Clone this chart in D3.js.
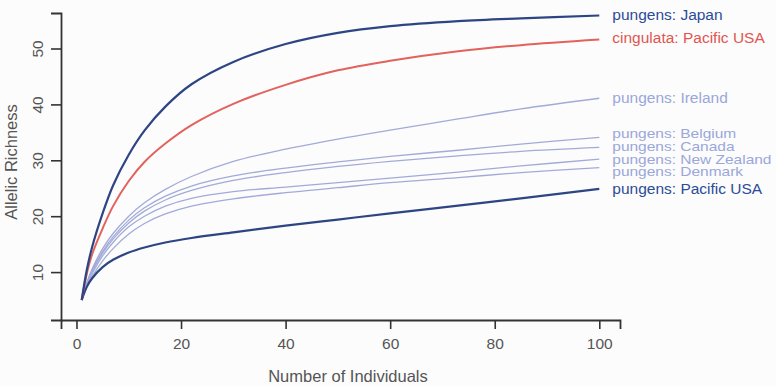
<!DOCTYPE html>
<html>
<head>
<meta charset="utf-8">
<script src="https://cdn.jsdelivr.net/npm/d3@7"></script>
<style>
  body { margin: 0; background: #fcfcfc; }
  text { font-family: "Liberation Sans", Arial, sans-serif; }
</style>
</head>
<body>
<div id="chart"></div>
<script>
// sample sizes (number of individuals)
var individuals = [1, 2, 3, 5, 7, 10, 13, 17, 22, 30, 40, 50, 60, 73, 85, 100];

// allelic richness per population
var japan      = [5, 10.5, 14.5, 20.5, 25.5, 31.0, 35.3, 39.6, 43.6, 47.6, 50.8, 52.8, 54.0, 54.9, 55.4, 55.9];
var cingulata  = [5, 9.8, 13.2, 17.8, 21.8, 26.3, 29.7, 33.0, 36.3, 40.1, 43.5, 46.1, 47.8, 49.5, 50.6, 51.6];
var ireland    = [5, 8.2, 10.6, 14.2, 16.9, 20.0, 22.4, 24.8, 27.1, 29.8, 32.0, 33.8, 35.4, 37.4, 39.2, 41.1];
var belgium    = [5, 8.0, 10.3, 13.7, 16.3, 19.3, 21.5, 23.6, 25.4, 27.2, 28.6, 29.7, 30.7, 31.8, 32.9, 34.1];
var canada     = [5, 7.9, 10.1, 13.4, 15.9, 18.8, 20.9, 22.9, 24.6, 26.4, 27.8, 28.9, 29.8, 30.8, 31.6, 32.3];
var newZealand = [5, 7.7, 9.7, 12.9, 15.3, 18.1, 20.0, 21.8, 23.2, 24.4, 25.2, 26.0, 26.8, 27.9, 29.0, 30.2];
var denmark    = [5, 7.4, 9.2, 12.0, 14.2, 16.8, 18.7, 20.4, 21.8, 23.1, 24.2, 25.1, 26.0, 26.9, 27.8, 28.7];
var pacificUSA = [5, 7.4, 8.9, 10.9, 12.2, 13.5, 14.4, 15.3, 16.1, 17.1, 18.3, 19.4, 20.5, 21.9, 23.2, 24.9];

var seriesNames = ["pungens: Belgium", "pungens: Canada", "pungens: New Zealand", "pungens: Denmark",
                   "pungens: Ireland", "pungens: Pacific USA", "cingulata: Pacific USA", "pungens: Japan"];
var seriesValues = [belgium, canada, newZealand, denmark, ireland, pacificUSA, cingulata, japan];
var seriesKind = ["light", "light", "light", "light", "light", "dark", "red", "dark"];
// where each end label sits (allelic richness units)
var labelAt = [34.8, 32.4, 30.1, 28.0, 41.3, 24.9, 52.0, 56.1];

var xTicks = [0, 20, 40, 60, 80, 100];
var yTicks = [10, 20, 30, 40, 50];

var svgWidth = 776, svgHeight = 386;
var plotLeft = 61, plotRight = 620, plotTop = 13, plotBottom = 320;

var lineColor  = { light: "#a2abd8", dark: "#2e4584", red: "#e2625c" };
var lineWidth  = { light: 1.3, dark: 2.2, red: 2 };
var labelColor = { light: "#9aa7da", dark: "#2c4b99", red: "#e2554f" };

var svg = d3.select("#chart")
    .append("svg")
    .attr("width", svgWidth)
    .attr("height", svgHeight);

var xScale = d3.scaleLinear().domain([-2.96, 103.96]).range([plotLeft, plotRight]);
var yScale = d3.scaleLinear().domain([1.43, 56.35]).range([plotBottom, plotTop]);

var line = d3.line()
    .x(function (d, i) { return xScale(individuals[i]); })
    .y(function (d) { return yScale(d); })
    .curve(d3.curveCatmullRom.alpha(0.5));

svg.selectAll(".curve")
    .data(seriesValues)
    .enter()
    .append("path")
    .attr("class", "curve")
    .attr("fill", "none")
    .attr("stroke", function (d, i) { return lineColor[seriesKind[i]]; })
    .attr("stroke-width", function (d, i) { return lineWidth[seriesKind[i]]; })
    .attr("d", line);

// labels at the end of each curve
svg.selectAll(".lab")
    .data(seriesNames)
    .enter()
    .append("text")
    .attr("class", "lab")
    .attr("transform", function (d, i) {
        var s = i < 4 ? 0.8 : 1;
        return "translate(" + (xScale(100) + 13) + "," + yScale(labelAt[i]) + ") scale(1," + s + ")";
    })
    .attr("dy", "0.35em")
    .attr("font-size", 15.5)
    .attr("fill", function (d, i) { return labelColor[seriesKind[i]]; })
    .text(function (d) { return d; });

// axes
var xAxis = d3.axisBottom(xScale).tickValues(xTicks).tickSizeOuter(0).tickSize(9).tickPadding(9);
var yAxis = d3.axisLeft(yScale).tickValues(yTicks).tickSizeOuter(0).tickSize(10).tickPadding(6);

var gx = svg.append("g")
    .attr("transform", "translate(0," + plotBottom + ")")
    .call(xAxis);

var gy = svg.append("g")
    .attr("transform", "translate(" + plotLeft + ",0)")
    .call(yAxis);

[gx, gy].forEach(function (g) {
    g.select(".domain").attr("stroke", "#333").attr("stroke-width", 1.8);
    g.selectAll(".tick line").attr("stroke", "#333").attr("stroke-width", 1.6);
    g.selectAll(".tick text").attr("fill", "#555").attr("font-size", 15.5)
        .attr("font-family", "Liberation Sans, Arial, sans-serif");
});

gy.selectAll(".tick text")
    .attr("text-anchor", "middle")
    .attr("transform", "rotate(-90)")
    .attr("x", 0)
    .attr("y", -23)
    .attr("dy", "0.35em");

svg.append("text")
    .attr("x", 348)
    .attr("y", 382)
    .attr("text-anchor", "middle")
    .attr("font-size", 16.5)
    .attr("fill", "#555")
    .text("Number of Individuals");

svg.append("text")
    .attr("transform", "translate(17," + 162 + ") rotate(-90)")
    .attr("text-anchor", "middle")
    .attr("font-size", 16.5)
    .attr("fill", "#555")
    .text("Allelic Richness");
</script>
</body>
</html>
